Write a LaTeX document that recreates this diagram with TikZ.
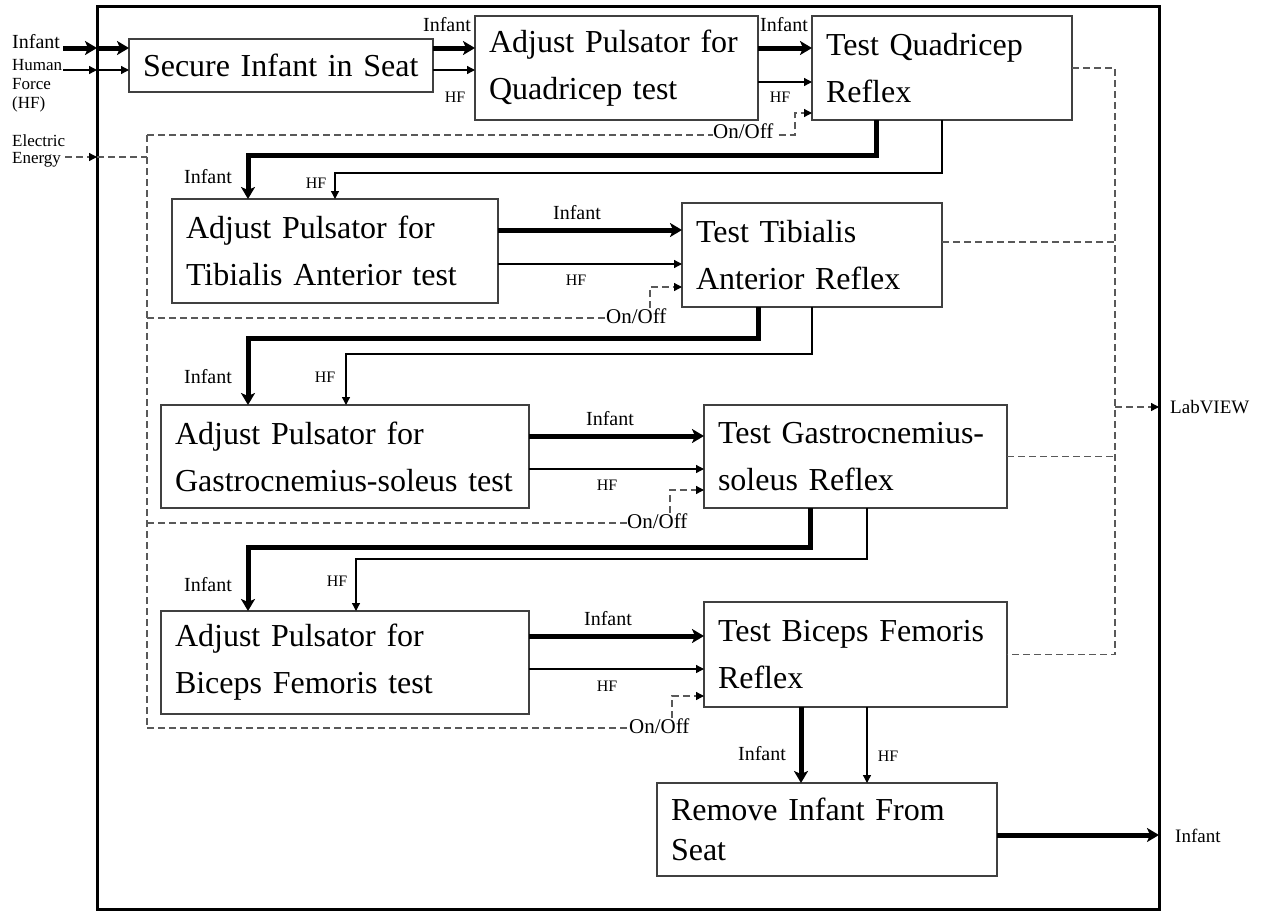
\documentclass[tikz,border=0pt]{standalone}
\usepackage{fontspec}
\setmainfont{Liberation Serif}
\usetikzlibrary{arrows.meta}
\begin{document}
\begin{tikzpicture}[x=1pt,y=-1pt,
  box/.style={draw=black!75, line width=1.5pt, anchor=north west, outer sep=0pt,
    inner xsep=14pt, inner ysep=0pt, align=left, font=\fontsize{32}{47}\selectfont},
  lab/.style={inner sep=0pt, font=\fontsize{20}{20}\selectfont},
  hfl/.style={inner sep=0pt, font=\fontsize{16}{16}\selectfont},
  side/.style={inner sep=0pt, font=\fontsize{17}{17}\selectfont},
  onoff/.style={inner sep=0pt, font=\fontsize{21}{21}\selectfont},
  thk/.style={line width=5pt, -{Stealth[length=12pt,width=14pt,inset=3pt]}},
  thn/.style={line width=1.3pt, -{Triangle[length=8pt,width=8pt]}},
  dsh/.style={line width=1.3pt, draw=black!65, dash pattern=on 7pt off 4pt},
  dsharr/.style={dsh, -{Triangle[length=8pt,width=8pt,black]}}
]
\useasboundingbox (0,0) rectangle (1263,911);

% frame
\node[draw, line width=3pt, anchor=north west, outer sep=0pt, inner sep=0pt,
  minimum width=1062pt, minimum height=903pt] (frame) at (97,6) {};

% boxes
\node[box, text width=276pt, minimum height=53pt] (b1) at (129,39) {Secure Infant in Seat};
\node[box, text width=255pt, minimum height=104pt] (b2) at (475,16) {Adjust Pulsator for\\Quadricep test};
\node[box, text width=232pt, minimum height=104pt] (b3) at (812,16) {Test Quadricep\\Reflex};
\node[box, text width=298pt, minimum height=104pt] (b4) at (172,199) {Adjust Pulsator for\\Tibialis Anterior test};
\node[box, text width=232pt, minimum height=104pt] (b5) at (682,203) {Test Tibialis\\Anterior Reflex};
\node[box, text width=340pt, minimum height=103pt] (b6) at (161,405) {Adjust Pulsator for\\\mbox{Gastrocnemius-soleus test}};
\node[box, text width=275pt, minimum height=103pt] (b7) at (704,405) {\mbox{Test Gastrocnemius-}\\soleus Reflex};
\node[box, text width=340pt, minimum height=103pt] (b8) at (161,611) {Adjust Pulsator for\\Biceps Femoris test};
\node[box, text width=275pt, minimum height=105pt] (b9) at (704,602) {Test Biceps Femoris\\Reflex};
\node[box, text width=312pt, minimum height=93pt, font=\fontsize{32}{40}\selectfont] (b10) at (657,783) {Remove Infant From\\Seat};

% inputs
\node[inner sep=0pt, font=\fontsize{20}{20}\selectfont, anchor=base west] (inInf) at (12,48) {Infant};
\draw[thk] ([xshift=3pt]inInf.base east) -- (inInf.base -| frame.west);
\draw[thk] (inInf.base -| frame.west) -- (inInf.base -| b1.west);

\node[side, anchor=base west] (inHF) at (12,70) {Human};
\node[side, anchor=base west] (inHF2) at (12,89) {Force};
\node[side, anchor=base west] (inHF3) at (12,108) {(HF)};
\draw[thn] ([xshift=1pt]inHF.base east) -- (inHF.base -| frame.west);
\draw[thn] (inHF.base -| frame.west) -- (inHF.base -| b1.west);

\node[side, anchor=base west] (inEE) at (12,146) {Electric};
\node[side, anchor=base west] (inEE2) at (12,163) {Energy};
\coordinate (ee) at (65,157);
\coordinate (r1) at (147,135);
\coordinate (r2) at (147,318);
\coordinate (r3) at (147,523);
\coordinate (r4) at (147,728);
\draw[dsharr] (ee) -- (ee -| frame.west);
\draw[dsh] (ee -| frame.west) -- (ee -| r1);
\draw[dsh] (r1) -- (r4);

% On/Off controls
\node[onoff, anchor=base west] (on1) at (713,138) {On/Off};
\node[onoff, anchor=base west] (on2) at (606,323) {On/Off};
\node[onoff, anchor=base west] (on3) at (627,528) {On/Off};
\node[onoff, anchor=base west] (on4) at (629,733) {On/Off};
\coordinate (k1) at (795,113);
\coordinate (k2) at (650,287);
\coordinate (k3) at (670,490);
\coordinate (k4) at (672,696);
\draw[dsh] (r1) -- (r1 -| on1.west);
\draw[dsharr] ([xshift=5pt]on1.east |- r1) -| (k1) -- (k1 -| b3.west);
\draw[dsh] (r2) -- (r2 -| on2.west);
\draw[dsharr] (k2 |- on2.north) -- (k2) -- (k2 -| b5.west);
\draw[dsh] (r3) -- (r3 -| on3.west);
\draw[dsharr] (k3 |- on3.north) -- (k3) -- (k3 -| b7.west);
\draw[dsh] (r4) -- (r4 -| on4.west);
\draw[dsharr] (k4 |- on4.north) -- (k4) -- (k4 -| b9.west);

% b1 -> b2
\draw[thk] ([yshift=17.5pt]b1.east) -- ([yshift=17.5pt]b1.east -| b2.west);
\draw[thn] ([yshift=-4.5pt]b1.east) -- ([yshift=-4.5pt]b1.east -| b2.west);
\node[lab] (l12i) at (447,25) {Infant};
\node[hfl] (l12h) at (455,97) {HF};

% b2 -> b3
\draw[thk] ([yshift=20pt]b2.east) -- ([yshift=20pt]b2.east -| b3.west);
\draw[thn] ([yshift=-14pt]b2.east) -- ([yshift=-14pt]b2.east -| b3.west);
\node[lab] (l23i) at (784,25) {Infant};
\node[hfl] (l23h) at (780,97) {HF};

% b3 -> b4
\coordinate (a1) at (876,155); \coordinate (a2) at (248,155);
\coordinate (h1) at (942,173); \coordinate (h2) at (335,173);
\draw[thk] (a1 |- b3.south) -- (a1) -- (a2) -- (a2 |- b4.north);
\draw[thn] (h1 |- b3.south) -- (h1) -- (h2) -- (h2 |- b4.north);
\node[lab] (l34i) at (208,177) {Infant};
\node[hfl] (l34h) at (316,183) {HF};

% b4 -> b5
\draw[thk] ([yshift=21pt]b4.east) -- ([yshift=21pt]b4.east -| b5.west);
\draw[thn] ([yshift=-13pt]b4.east) -- ([yshift=-13pt]b4.east -| b5.west);
\node[lab] (l45i) at (577,213) {Infant};
\node[hfl] (l45h) at (576,280) {HF};

% b5 -> b6
\coordinate (a3) at (758,338); \coordinate (a4) at (248,338);
\coordinate (h3) at (812,354); \coordinate (h4) at (346,354);
\draw[thk] (a3 |- b5.south) -- (a3) -- (a4) -- (a4 |- b6.north);
\draw[thn] (h3 |- b5.south) -- (h3) -- (h4) -- (h4 |- b6.north);
\node[lab] (l56i) at (208,377) {Infant};
\node[hfl] (l56h) at (325,377) {HF};

% b6 -> b7
\draw[thk] ([yshift=20.5pt]b6.east) -- ([yshift=20.5pt]b6.east -| b7.west);
\draw[thn] ([yshift=-12.5pt]b6.east) -- ([yshift=-12.5pt]b6.east -| b7.west);
\node[lab] (l67i) at (610,419) {Infant};
\node[hfl] (l67h) at (607,485) {HF};

% b7 -> b8
\coordinate (a5) at (810,547); \coordinate (a6) at (248,547);
\coordinate (h5) at (867,559); \coordinate (h6) at (356,559);
\draw[thk] (a5 |- b7.south) -- (a5) -- (a6) -- (a6 |- b8.north);
\draw[thn] (h5 |- b7.south) -- (h5) -- (h6) -- (h6 |- b8.north);
\node[lab] (l78i) at (208,585) {Infant};
\node[hfl] (l78h) at (337,581) {HF};

% b8 -> b9
\draw[thk] ([yshift=26.5pt]b8.east) -- ([yshift=26.5pt]b8.east -| b9.west);
\draw[thn] ([yshift=-6.5pt]b8.east) -- ([yshift=-6.5pt]b8.east -| b9.west);
\node[lab] (l89i) at (608,619) {Infant};
\node[hfl] (l89h) at (607,686) {HF};

% b9 -> b10
\coordinate (a7) at (801,745);
\coordinate (h7) at (867,745);
\draw[thk] (a7 |- b9.south) -- (a7 |- b10.north);
\draw[thn] (h7 |- b9.south) -- (h7 |- b10.north);
\node[lab] (l910i) at (762,754) {Infant};
\node[hfl] (l910h) at (888,756) {HF};

% output
\draw[thk] ([yshift=-5.5pt]b10.east) -- ([yshift=-5.5pt]b10.east -| frame.east);
\node[lab, anchor=west, font=\fontsize{19}{19}\selectfont] (outI) at (1175,836) {Infant};

% LabVIEW
\coordinate (lv) at (1115,407);
\draw[dsh] (b3.east) -- (b3.east -| lv) -- (lv |- b9.east) -- (b9.east);
\draw[dsh] ([yshift=13pt]b5.east) -- ([yshift=13pt]b5.east -| lv);
\draw[dsh] (b7.east) -- (b7.east -| lv);
\draw[dsharr] (lv) -- (lv -| frame.east);
\node[lab, anchor=west, font=\fontsize{19}{19}\selectfont] (lvl) at (1170,407) {LabVIEW};
\end{tikzpicture}
\end{document}
